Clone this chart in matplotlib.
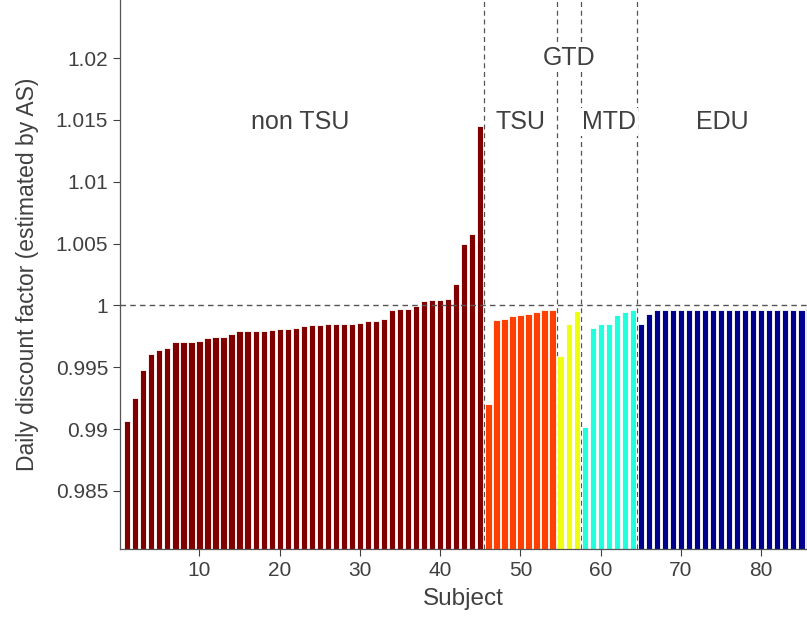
import numpy as np
import matplotlib
matplotlib.use("Agg")
import matplotlib.pyplot as plt

plt.rcParams['font.family'] = ['Liberation Sans', 'DejaVu Sans']

# Estimated daily discount factor per subject, grouped by diagnosis
non_tsu = [0.99065, 0.99251, 0.99480, 0.99609, 0.99642, 0.99658, 0.99707, 0.99707,
           0.99705, 0.99715, 0.99736, 0.99747, 0.99747, 0.99768, 0.99790, 0.99790,
           0.99790, 0.99795, 0.99803, 0.99811, 0.99811, 0.99820, 0.99834, 0.99841,
           0.99844, 0.99849, 0.99849, 0.99849, 0.99849, 0.99857, 0.99873, 0.99873,
           0.99887, 0.99965, 0.99970, 0.99970, 0.99992, 1.00035, 1.00046, 1.00043,
           1.00051, 1.00172, 1.00496, 1.00576, 1.01449]
tsu = [0.99205, 0.99881, 0.99887, 0.99917, 0.99922, 0.99930, 0.99946, 0.99960, 0.99962]
gtd = [0.99588, 0.99849, 0.99951]
mtd = [0.99016, 0.99814, 0.99849, 0.99849, 0.99922, 0.99943, 0.99962]
edu = [0.99849, 0.99930] + [0.99965] * 19 + [0.99995]

groups = ["non TSU", "TSU", "GTD", "MTD", "EDU"]
group_values = [non_tsu, tsu, gtd, mtd, edu]
group_colors = ["#800000", "#FF4000", "#EEFF12", "#22FFDD", "#00008F"]
label_pos = [(22.6, 1.01487), (50.0, 1.01487), (56.0, 1.0200), (61.0, 1.01487), (75.2, 1.01487)]

fig = plt.figure(figsize=(8.07, 6.22), dpi=100)
ax = fig.add_axes([0.1487, 0.1174, 0.8513, 0.8826])

start = 1
boundaries = []
for vals, col in zip(group_values, group_colors):
    x = np.arange(start, start + len(vals))
    ax.bar(x, vals, width=0.78, color=col, edgecolor="white", linewidth=0.6, zorder=2)
    start += len(vals)
    boundaries.append(start - 0.5)

ylo, yhi = 0.9803, 1.0247
ax.set_ylim(ylo, yhi)
ax.set_xlim(0.1, 85.7)

ax.axhline(1.0, color="#555555", linestyle=(0, (4, 3)), linewidth=1.0, zorder=3)
for b in boundaries[:-1]:
    ax.axvline(b, color="#555555", linestyle=(0, (4, 3)), linewidth=0.9, zorder=1)

for name, (tx, ty) in zip(groups, label_pos):
    ax.text(tx, ty, name, ha="center", va="center", fontsize=18, color="#404040",
            bbox=dict(facecolor="white", edgecolor="none", pad=1.5), zorder=4)

ax.set_xticks([10, 20, 30, 40, 50, 60, 70, 80])
ax.set_yticks([0.985, 0.99, 0.995, 1.0, 1.005, 1.01, 1.015, 1.02])
ax.set_yticklabels(["0.985", "0.99", "0.995", "1", "1.005", "1.01", "1.015", "1.02"])
ax.tick_params(axis="both", labelsize=15, colors="#404040", length=5, width=0.8, direction="out")

for side in ["top", "right"]:
    ax.spines[side].set_visible(False)
for side in ["left", "bottom"]:
    ax.spines[side].set_color("#555555")
    ax.spines[side].set_linewidth(0.9)

ax.set_xlabel("Subject", fontsize=17.5, color="#404040", labelpad=6)
ax.set_ylabel("Daily discount factor (estimated by AS)", fontsize=16.5, color="#404040", labelpad=12)

fig.savefig("out.png", dpi=100)
